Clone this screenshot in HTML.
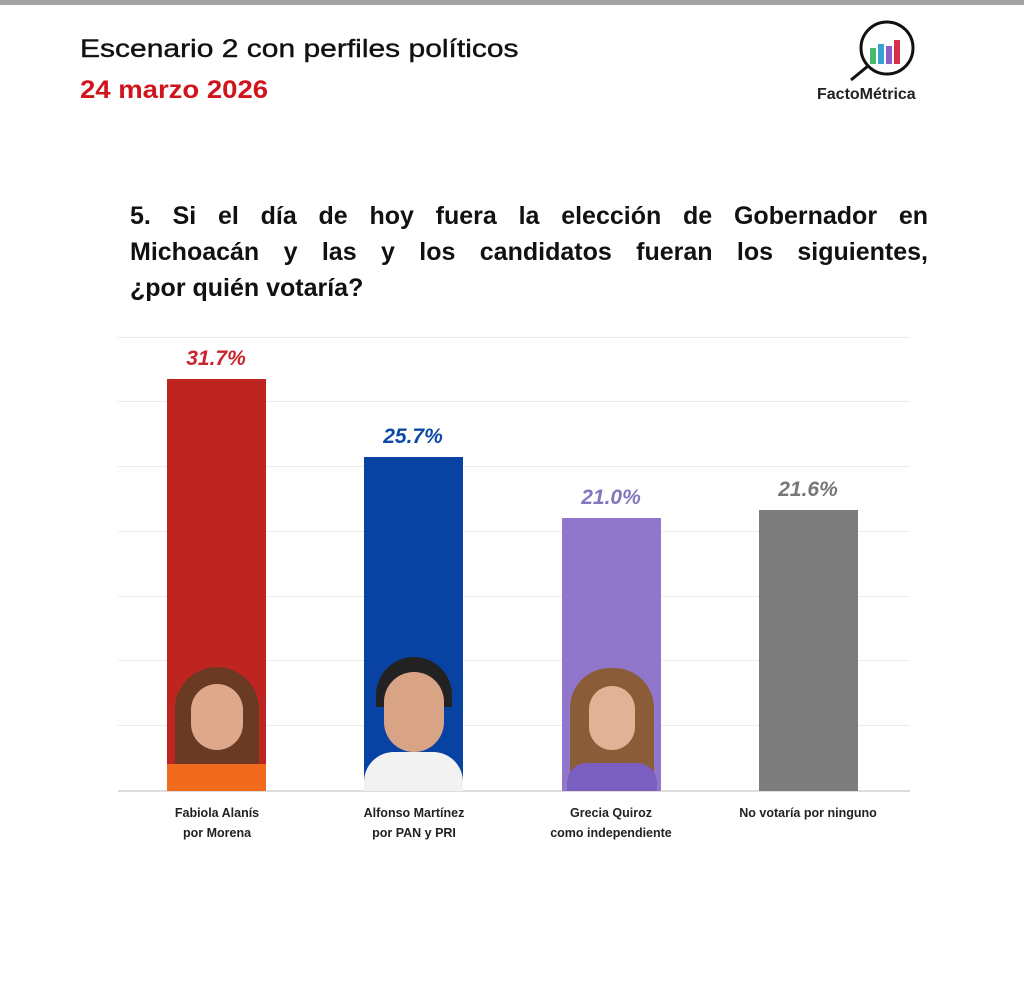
<!DOCTYPE html>
<html><head><meta charset="utf-8"><style>
body{margin:0;width:1024px;height:993px;background:#fff;position:relative;overflow:hidden;font-family:"Liberation Sans",sans-serif}
.a{position:absolute}
.grid{position:absolute;left:118px;width:792px;height:1px;background:#ececec}
.bar{position:absolute;width:99px;overflow:hidden}
.val{position:absolute;width:140px;text-align:center;font-weight:bold;font-style:italic;font-size:21px}
.lab{position:absolute;width:200px;text-align:center;font-weight:bold;font-size:12.5px;line-height:20px;color:#222}
.q{position:absolute;left:130px;width:798px;font-size:25px;font-weight:bold;color:#111;text-align:justify;text-align-last:justify;white-space:nowrap;height:35px}
</style></head><body>
<div class="a" style="left:0;top:0;width:1024px;height:5px;background:#a3a3a3"></div>
<div class="a" style="left:80px;top:35px;font-size:25px;color:#111;transform:scaleX(1.2);transform-origin:0 0;-webkit-text-stroke:0.4px #111">Escenario 2 con perfiles políticos</div>
<div class="a" style="left:80px;top:76px;font-size:25px;color:#d0141b;font-weight:bold;transform:scaleX(1.1);transform-origin:0 0">24 marzo 2026</div>
<svg class="a" style="left:845px;top:18px" width="80" height="65">
<circle cx="42" cy="30" r="26" fill="none" stroke="#111" stroke-width="3"/>
<line x1="23" y1="48" x2="6" y2="62" stroke="#111" stroke-width="3"/>
<rect x="25" y="30" width="6" height="16" fill="#4db86f"/><rect x="33" y="26" width="6" height="20" fill="#3aa0d8"/><rect x="41" y="28" width="6" height="18" fill="#8e5fc8"/><rect x="49" y="22" width="6" height="24" fill="#d8304a"/>
</svg>
<div class="a" style="left:817px;top:86px;font-size:16px;font-weight:bold;color:#222">FactoMétrica</div>
<div class="q" style="top:202px;white-space:normal">5. Si el día de hoy fuera la elección de Gobernador en</div>
<div class="q" style="top:238px;white-space:normal">Michoacán y las y los candidatos fueran los siguientes,</div>
<div class="a" style="left:130px;top:274px;font-size:25px;font-weight:bold;color:#111">¿por quién votaría?</div>
<div class="grid" style="top:337px"></div><div class="grid" style="top:401px"></div><div class="grid" style="top:466px"></div><div class="grid" style="top:531px"></div><div class="grid" style="top:596px"></div><div class="grid" style="top:660px"></div><div class="grid" style="top:725px"></div>
<div class="a" style="left:118px;top:790px;width:792px;height:2px;background:#ddd"></div>
<div class="bar" style="left:167px;top:379px;height:412px;background:#be2521">
<div class="a" style="left:8px;top:288px;width:84px;height:130px;border-radius:42px 42px 0 0;background:#6b3a22"></div>
<div class="a" style="left:24px;top:305px;width:52px;height:66px;border-radius:26px;background:#e0a88a"></div>
<div class="a" style="left:0;top:385px;width:99px;height:30px;background:#f26a1e"></div></div>
<div class="bar" style="left:364px;top:457px;height:334px;background:#0843a3">
<div class="a" style="left:12px;top:200px;width:76px;height:50px;border-radius:38px 38px 0 0;background:#222"></div>
<div class="a" style="left:20px;top:215px;width:60px;height:80px;border-radius:30px;background:#d9a486"></div>
<div class="a" style="left:0;top:295px;width:99px;height:45px;background:#f2f2f2;border-radius:30px 30px 0 0"></div></div>
<div class="bar" style="left:562px;top:518px;height:273px;background:#9177cb">
<div class="a" style="left:8px;top:150px;width:84px;height:130px;border-radius:40px 40px 0 0;background:#8a5c38"></div>
<div class="a" style="left:27px;top:168px;width:46px;height:64px;border-radius:23px;background:#e0b296"></div>
<div class="a" style="left:5px;top:245px;width:90px;height:30px;background:#7a5fc0;border-radius:20px 20px 0 0"></div></div>
<div class="bar" style="left:759px;top:510px;height:281px;background:#7d7d7d"></div>
<div class="val" style="left:146px;top:347px;color:#c8252f">31.7%</div>
<div class="val" style="left:343px;top:425px;color:#0c4aa6">25.7%</div>
<div class="val" style="left:541px;top:486px;color:#8676c0">21.0%</div>
<div class="val" style="left:738px;top:478px;color:#777">21.6%</div>
<div class="lab" style="left:117px;top:803px">Fabiola Alanís<br>por Morena</div>
<div class="lab" style="left:314px;top:803px">Alfonso Martínez<br>por PAN y PRI</div>
<div class="lab" style="left:511px;top:803px">Grecia Quiroz<br>como independiente</div>
<div class="lab" style="left:708px;top:803px">No votaría por ninguno</div>
</body></html>
